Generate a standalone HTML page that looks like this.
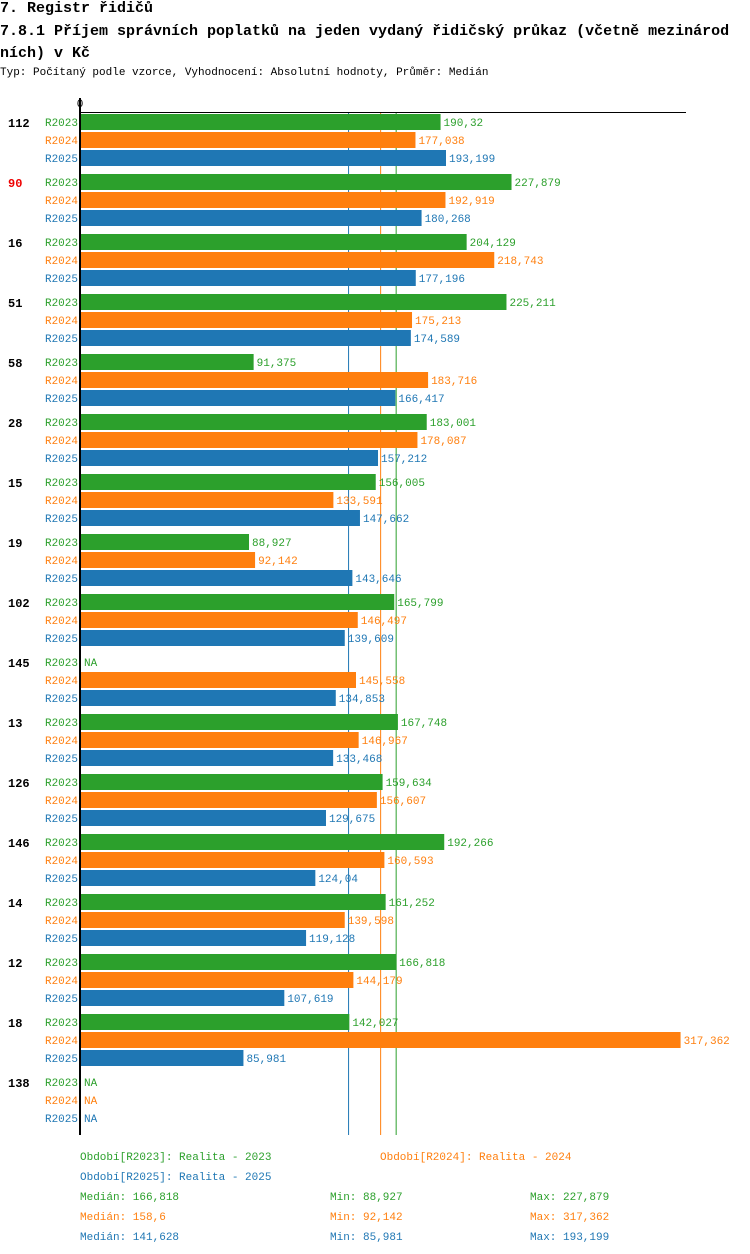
<!DOCTYPE html>
<html><head><meta charset="utf-8"><style>
body{margin:0;background:#fff;font-family:"Liberation Mono","DejaVu Sans Mono",monospace;}
#c{position:relative;width:750px;height:1254px;overflow:hidden}
.t{position:absolute;white-space:nowrap}
</style></head><body><div id="c">
<div class="t" style="left:0;top:0;font-size:15px;font-weight:bold">7. Registr řidičů</div>
<div class="t" style="left:0;top:21px;font-size:15px;font-weight:bold;line-height:22px">7.8.1 Příjem správních poplatků na jeden vydaný řidičský průkaz (včetně mezinárod<br>ních) v Kč</div>
<div class="t" style="left:0;top:67px;font-size:11px">Typ: Počítaný podle vzorce, Vyhodnocení: Absolutní hodnoty, Průměr: Medián</div>
<svg id="s" width="750" height="1254" style="position:absolute;left:0;top:0"></svg>
</div>
<script>
const categories=["112","90","16","51","58","28","15","19","102","145","13","126","146","14","12","18","138"];
const r2023=[190.32,227.879,204.129,225.211,91.375,183.001,156.005,88.927,165.799,null,167.748,159.634,192.266,161.252,166.818,142.027,null];
const r2024=[177.038,192.919,218.743,175.213,183.716,178.087,133.591,92.142,146.497,145.558,146.967,156.607,160.593,139.598,144.179,317.362,null];
const r2025=[193.199,180.268,177.196,174.589,166.417,157.212,147.662,143.646,139.609,134.853,133.468,129.675,124.04,119.128,107.619,85.981,null];
const seriesNames=["R2023","R2024","R2025"];
const colors=["#2ca02c","#ff7f0e","#1f77b4"];
const medians=[166.818,158.6,141.628];
const mins=[88.927,92.142,85.981];
const maxs=[227.879,317.362,193.199];
const NS="http://www.w3.org/2000/svg",s=document.getElementById('s');
const x=v=>81+v*(365/193.199);
const fmt=v=>String(Math.round(v*1000)/1000).replace('.',',');
function el(t,a,txt){const e=document.createElementNS(NS,t);for(const k in a)e.setAttribute(k,a[k]);if(txt!=null)e.textContent=txt;s.appendChild(e);return e;}
const data=[r2023,r2024,r2025];
medians.forEach((m,j)=>{
  const l=el('line',{x1:x(m),x2:x(m),y1:112,y2:1135,stroke:colors[j],'stroke-width':1});
  
  
});
categories.forEach((c,i)=>{
  const top=114+60*i;
  const lab=el('text',{x:8,y:top+13,'font-size':12,'font-weight':'bold',fill:c==="90"?"#e00":"#000",'font-family':'Liberation Mono, monospace'},c);
  
  
  data.forEach((ser,j)=>{
    const y=top+18*j;
    const sl=el('text',{x:78,y:y+12,'font-size':11,fill:colors[j],'text-anchor':'end','font-family':'Liberation Mono, monospace'},seriesNames[j]);
    
    
    const v=ser[i];
    if(v==null){
      const na=el('text',{x:84,y:y+12,'font-size':11,fill:colors[j],'font-family':'Liberation Mono, monospace'},'NA');
      
      
    }else{
      const b=el('rect',{x:81,y:y,width:x(v)-81,height:16,fill:colors[j]});
      
      
      const vl=el('text',{x:x(v)+3,y:y+12,'font-size':11,fill:colors[j],'font-family':'Liberation Mono, monospace'},fmt(v));
      
      
    }
  });
});
const ax=el('line',{x1:80,x2:80,y1:98,y2:1135,stroke:'#000','stroke-width':2});


const tx=el('line',{x1:80,x2:686,y1:112.5,y2:112.5,stroke:'#000','stroke-width':1});


const z=el('text',{x:80,y:107,'font-size':11,'text-anchor':'middle','font-family':'Liberation Mono, monospace'},'0');


const leg=[[80,1160,"Období[R2023]: Realita - 2023",0],[380,1160,"Období[R2024]: Realita - 2024",1],[80,1180,"Období[R2025]: Realita - 2025",2]];
leg.forEach(L=>{const t=el('text',{x:L[0],y:L[1],'font-size':11,fill:colors[L[3]],'font-family':'Liberation Mono, monospace'},L[2]);

});
[0,1,2].forEach(j=>{const y=1200+20*j;
 const a=el('text',{x:80,y:y,'font-size':11,fill:colors[j],'font-family':'Liberation Mono, monospace'},'Medián: '+fmt(medians[j]));
 
 
 const b=el('text',{x:330,y:y,'font-size':11,fill:colors[j],'font-family':'Liberation Mono, monospace'},'Min: '+fmt(mins[j]));
 
 
 const c=el('text',{x:530,y:y,'font-size':11,fill:colors[j],'font-family':'Liberation Mono, monospace'},'Max: '+fmt(maxs[j]));
 
 
});
</script></body></html>
